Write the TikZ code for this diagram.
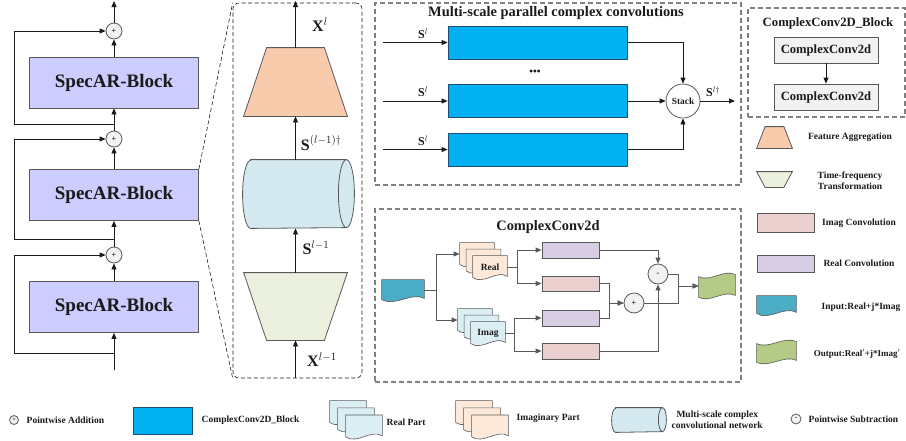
\documentclass[tikz,border=0pt]{standalone}
\usepackage{fontspec}
\setmainfont{Liberation Serif}
\usetikzlibrary{arrows.meta,positioning,calc}
\definecolor{Ink}{HTML}{1A1A1A}
\definecolor{Edge}{HTML}{595959}
\definecolor{DashGray}{HTML}{808080}
\definecolor{BlockLilac}{HTML}{CCCCFF}
\definecolor{ConvBlue}{HTML}{00B0F0}
\definecolor{ConvEdge}{HTML}{1F4E79}
\definecolor{AggPeach}{HTML}{F8CBAD}
\definecolor{TfGreen}{HTML}{EBF1DE}
\definecolor{CylBlue}{HTML}{D5EAF0}
\definecolor{PagePeach}{HTML}{FDE9D9}
\definecolor{PageBlue}{HTML}{DAEEF3}
\definecolor{ImagPink}{HTML}{EBD0D0}
\definecolor{RealLilac}{HTML}{D7CEE3}
\definecolor{InTeal}{HTML}{4BACC6}
\definecolor{OutGreen}{HTML}{B3CB86}
\definecolor{OpGray}{HTML}{F2F2F2}

% sheet with a wavy bottom, drawn round an empty node
\newcommand\docpath[2]{%
  \filldraw[draw=Edge,fill=#2,line width=0.6pt] (#1.north west) -- (#1.north east) -- ($(#1.south east)+(0pt,2pt)$)
    .. controls ($(#1.south west)!0.7!(#1.south east)+(0pt,9pt)$) and ($(#1.south west)!0.3!(#1.south east)+(0pt,-7pt)$) .. ($(#1.south west)+(0pt,1pt)$) -- cycle;}
% flag with wavy top and bottom
\newcommand\tapepath[2]{%
  \filldraw[draw=Edge,fill=#2,line width=0.6pt] ($(#1.north west)+(0pt,-1pt)$)
    .. controls ($(#1.north west)!0.3!(#1.north east)+(0pt,-7pt)$) and ($(#1.north west)!0.7!(#1.north east)+(0pt,7pt)$) .. ($(#1.north east)+(0pt,1pt)$)
    -- ($(#1.south east)+(0pt,1pt)$)
    .. controls ($(#1.south west)!0.7!(#1.south east)+(0pt,7pt)$) and ($(#1.south west)!0.3!(#1.south east)+(0pt,-7pt)$) .. ($(#1.south west)+(0pt,-1pt)$) -- cycle;}
% trapezoids: narrow top / narrow bottom
\newcommand\trapup[3]{%
  \filldraw[draw=Edge,fill=#2] (#1.south west) -- (#1.south east) -- ($(#1.north east)+(-#3,0pt)$) -- ($(#1.north west)+(#3,0pt)$) -- cycle;}
\newcommand\trapdown[3]{%
  \filldraw[draw=Edge,fill=#2] (#1.north west) -- (#1.north east) -- ($(#1.south east)+(-#3,0pt)$) -- ($(#1.south west)+(#3,0pt)$) -- cycle;}
% lying drum: #3 end x radius, #4 half height
\newcommand\drumpath[4]{%
  \filldraw[draw=Edge,fill=#2] ($(#1.north west)+(#3,0pt)$) -- ($(#1.north east)+(-#3,0pt)$)
    arc[start angle=90,end angle=-90,x radius=#3,y radius=#4] -- ($(#1.south west)+(#3,0pt)$)
    arc[start angle=270,end angle=90,x radius=#3,y radius=#4] -- cycle;
  \draw[Edge] ($(#1.north east)+(-#3,0pt)$) arc[start angle=90,end angle=270,x radius=#3,y radius=#4];}

\begin{document}
\begin{tikzpicture}[x=1pt,y=1pt,font=\bfseries,text=Ink,line width=0.8pt,
  arr/.style={draw=Ink,-{Triangle[length=6pt,width=5pt]}},
  garr/.style={draw=Edge,-{Triangle[length=6pt,width=5pt]}},
  sablock/.style={draw=Edge,fill=BlockLilac,minimum width=169,minimum height=51,font=\fontsize{19}{22}\selectfont\bfseries},
  addop/.style={circle,draw=Edge,fill=OpGray,minimum size=16,inner sep=0pt,font=\fontsize{8}{8}\selectfont\bfseries},
  conv/.style={draw=ConvEdge,fill=ConvBlue,minimum width=179,minimum height=33},
  ccbox/.style={draw=Edge,fill=OpGray,minimum width=104,minimum height=26,font=\fontsize{12.6}{14}\selectfont\bfseries},
  outerbox/.style={draw=DashGray,line width=1.2pt,dash pattern=on 5pt off 3pt},
  zoomline/.style={draw=Ink,line width=0.6pt,dash pattern=on 4pt off 2.5pt},
  smallrect/.style={draw=Edge,minimum width=57,inner sep=0pt},
  sheet/.style={minimum width=34,minimum height=22,inner sep=0pt},
  slot/.style={inner sep=0pt},
  mlbl/.style={font=\fontsize{16}{18}\selectfont},
  title/.style={font=\fontsize{14.4}{16}\selectfont\bfseries},
  lbl/.style={font=\fontsize{9.5}{11}\selectfont\bfseries}]
  \useasboundingbox (0,0) rectangle (906,-440);

  % residual stack
  \node[sablock] (blkA) at (114,-82.5) {SpecAR-Block};
  \node[sablock] (blkB) at (114,-195) {SpecAR-Block};
  \node[sablock] (blkC) at (114,-307) {SpecAR-Block};
  \node[addop] (addA) at (114,-31) {+};
  \node[addop] (addB) at (114,-139) {+};
  \node[addop] (addC) at (114,-255) {+};
  \coordinate (resIn) at (114,-370);
  \coordinate (resOut) at (114,-1);
  \coordinate (tapA) at (114,-124);
  \coordinate (tapB) at (114,-239);
  \coordinate (tapC) at (114,-353);
  \draw[arr] (resIn) -- (blkC);
  \draw[arr] (blkC) -- (addC);
  \draw[arr] (addC) -- (blkB);
  \draw[arr] (blkB) -- (addB);
  \draw[arr] (addB) -- (blkA);
  \draw[arr] (blkA) -- (addA);
  \draw[arr] (addA) -- (resOut);
  \draw[arr] (tapA) -- ++(-100,0) |- (addA);
  \draw[arr] (tapB) -- ++(-100,0) |- (addB);
  \draw[arr] (tapC) -- ++(-100,0) |- (addC);

  % zoomed block
  \node[zoomline,rounded corners=6pt,minimum width=129,minimum height=375] (zoomBox) at (297.5,-190.5) {};
  \draw[zoomline] (blkB.north east) -- (zoomBox.north west);
  \draw[zoomline] (blkB.south east) -- (zoomBox.south west);
  \node[slot,minimum width=103,minimum height=68] (agg) at (295.5,-82) {};
  \trapup{agg}{AggPeach}{23pt}
  \node[slot,minimum width=111,minimum height=68] (cyl) at (298.5,-194) {};
  \drumpath{cyl}{CylBlue}{8pt}{34pt}
  \node[slot,minimum width=103,minimum height=67] (tf) at (295.5,-306.5) {};
  \trapdown{tf}{TfGreen}{23pt}
  \coordinate (xIn) at (295.5,-378);
  \coordinate (xOut) at (295.5,-1);
  \draw[arr] (xIn) -- (tf);
  \draw[arr] (tf) -- (tf |- cyl.south);
  \draw[arr] (cyl.north -| agg) -- (agg);
  \draw[arr] (agg) -- (xOut);
  \node[mlbl] (lXl) at (320,-25) {$\mathbf{X}^{l}$};
  \node[mlbl] (lSd) at (321,-143) {$\mathbf{S}^{(l-1)\dagger}$};
  \node[mlbl] (lSl) at (316,-248) {$\mathbf{S}^{l-1}$};
  \node[mlbl] (lXp) at (322,-360) {$\mathbf{X}^{l-1}$};

  % multi-scale branch
  \node[outerbox,minimum width=366,minimum height=182] (msBox) at (558,-94) {};
  \node[title] (msTitle) at (556,-13) {Multi-scale parallel complex convolutions};
  \node[conv] (convA) at (537.5,-42.5) {};
  \node[conv] (convB) at (537.5,-101) {};
  \node[conv] (convC) at (537.5,-149.5) {};
  \node[font=\fontsize{12}{12}\selectfont,inner sep=0pt] (dots) at (535,-73) {\textbullet\kern-0.5pt\textbullet\kern-0.5pt\textbullet};
  \node[circle,draw=Edge,fill=white,minimum size=34,inner sep=0pt,font=\fontsize{9.4}{10}\selectfont\bfseries] (stack) at (683,-101) {Stack};
  \foreach \c/\y in {A/-42.5,B/-101,C/-149.5}{
    \coordinate (sIn\c) at (383,\y);
    \draw[arr] (sIn\c) -- (conv\c);
    \node[font=\fontsize{12}{13}\selectfont] (sLab\c) at (423,\y+9) {$\mathbf{S}^{l}$};
  }
  \draw[arr] (convA.east) -| (stack);
  \draw[arr] (convB) -- (stack);
  \draw[arr] (convC.east) -| (stack);
  \coordinate (sOut) at (735,-101);
  \draw[arr] (stack) -- (sOut);
  \node[font=\fontsize{12}{13}\selectfont] (sOutLab) at (713,-92) {$\mathbf{S}^{l\dagger}$};

  % block legend
  \node[outerbox,minimum width=157,minimum height=109] (blkBox) at (826.5,-62.5) {};
  \node[font=\fontsize{12.7}{14}\selectfont\bfseries] (blkTitle) at (828,-23) {ComplexConv2D\_Block};
  \node[ccbox] (ccA) at (826,-50) {ComplexConv2d};
  \node[ccbox] (ccB) at (826,-97) {ComplexConv2d};
  \draw[arr] (ccA) -- (ccB);

  % shape legend
  \node[slot,minimum width=35,minimum height=21] (legAgg) at (774.5,-137.5) {};
  \trapup{legAgg}{AggPeach}{8.5pt}
  \node[lbl] (tAgg) at (850,-137) {Feature Aggregation};
  \node[slot,minimum width=35,minimum height=15] (legTf) at (774.5,-179.5) {};
  \trapdown{legTf}{TfGreen}{8.5pt}
  \node[lbl,align=center] (tTf) at (850,-181) {Time-frequency\\Transformation};
  \node[smallrect,fill=ImagPink,minimum height=19] (legImag) at (785.5,-222.5) {};
  \node[lbl] (tImag) at (859,-223) {Imag Convolution};
  \node[smallrect,fill=RealLilac,minimum height=17] (legReal) at (785.5,-263.5) {};
  \node[lbl] (tReal) at (859,-263) {Real Convolution};
  \node[sheet,minimum width=39,minimum height=18] (legIn) at (776.5,-305) {};
  \docpath{legIn}{InTeal}
  \node[lbl] (tIn) at (861,-307) {Input:Real+j*Imag};
  \node[sheet,minimum width=39,minimum height=18] (legOut) at (776.5,-352) {};
  \tapepath{legOut}{OutGreen}
  \node[lbl,anchor=east,font=\fontsize{9}{10}\selectfont\bfseries] (tOut) at (904,-354) {Output:Real$'$+j*Imag$'$};

  % complex convolution
  \node[outerbox,minimum width=366,minimum height=173] (ccBox) at (558,-295.5) {};
  \node[title] (ccTitle) at (548,-227) {ComplexConv2d};
  \node[sheet,minimum width=42,minimum height=20] (inp) at (403,-290) {};
  \docpath{inp}{InTeal}
  \foreach \n/\d in {A/0,B/6.5,C/13}{
    \node[sheet] (real\n) at ({477+\d},{-254-\d}) {};
    \docpath{real\n}{PagePeach}
    \node[sheet] (imag\n) at ({475+\d},{-320-\d}) {};
    \docpath{imag\n}{PageBlue}
  }
  \node[font=\fontsize{9.5}{10}\selectfont\bfseries] (tRealP) at (realC) {Real};
  \node[font=\fontsize{9.5}{10}\selectfont\bfseries] (tImagP) at (imagC) {Imag};
  \node[smallrect,fill=RealLilac,minimum height=16] (rA) at (570.5,-250) {};
  \node[smallrect,fill=ImagPink,minimum height=15] (iA) at (570.5,-283.5) {};
  \node[smallrect,fill=RealLilac,minimum height=16] (rB) at (570.5,-318) {};
  \node[smallrect,fill=ImagPink,minimum height=16] (iB) at (570.5,-351) {};
  \node[addop,minimum size=20] (sub) at (658,-274) {-};
  \node[addop,minimum size=20] (add) at (634,-303) {+};
  \node[sheet,minimum width=36,minimum height=20] (outp) at (717,-286) {};
  \tapepath{outp}{OutGreen}
  \draw[garr] (inp.east) -- ++(12,0) |- (realA);
  \draw[garr] (inp.east) -- ++(12,0) |- (imagA);
  \draw[garr] (realC.east) -- ++(10,0) |- (rA);
  \draw[garr] (realC.east) -- ++(10,0) |- (iA);
  \draw[garr] (imagC.east) -- ++(9,0) |- (rB);
  \draw[garr] (imagC.east) -- ++(9,0) |- (iB);
  \draw[garr] (rA.east) -| (sub);
  \draw[garr] (iB.east) -| (sub);
  \draw[garr] (iA.east) -- ++(10,0) |- (add);
  \draw[garr] (rB.east) -- ++(10,0) |- (add);
  \draw[garr] (sub.east) -- ++(10,0) |- (outp);
  \draw[garr] (add.east) -- ++(34,0) |- (outp);

  % bottom legend
  \node[addop,minimum size=9,font=\fontsize{6}{6}\selectfont\bfseries] (legAdd) at (14,-420) {+};
  \node[lbl,anchor=west] (tAdd) at (23,-420) {Pointwise Addition};
  \node[conv,minimum width=59,minimum height=27] (legConv) at (162.5,-420.5) {};
  \node[lbl,anchor=west] (tConv) at (198,-420) {ComplexConv2D\_Block};
  \foreach \n/\d in {A/0,B/8,C/16}{
    \node[sheet,minimum width=36] (legRe\n) at ({348+\d},{-412-\d*0.9}) {};
    \docpath{legRe\n}{PageBlue}
    \node[sheet,minimum width=36] (legIm\n) at ({474+\d},{-412-\d*0.9}) {};
    \docpath{legIm\n}{PagePeach}
  }
  \node[lbl,anchor=west] (tRePart) at (383,-422) {Real Part};
  \node[lbl,anchor=west] (tImPart) at (513,-418) {Imaginary Part};
  \node[slot,minimum width=54,minimum height=24] (legCyl) at (639,-420) {};
  \drumpath{legCyl}{CylBlue}{4pt}{12pt}
  \node[lbl,anchor=west,align=center] (tCyl) at (668,-420) {Multi-scale complex\\convolutional network};
  \node[addop,minimum size=10,font=\fontsize{7}{7}\selectfont\bfseries] (legSub) at (796,-419) {-};
  \node[lbl,anchor=west] (tSub) at (805,-419) {Pointwise Subtraction};
\end{tikzpicture}
\end{document}
